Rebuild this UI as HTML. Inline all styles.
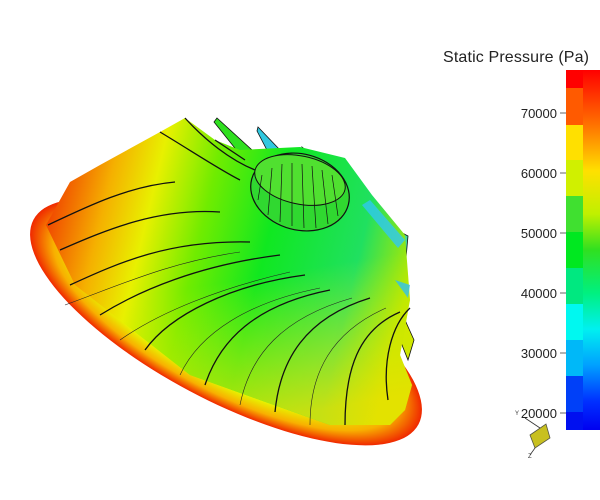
<!DOCTYPE html>
<html><head><style>
html,body{margin:0;padding:0;background:#fff;width:600px;height:500px;overflow:hidden}
text{font-family:"Liberation Sans",sans-serif}
</style></head><body>
<svg width="600" height="500" viewBox="0 0 600 500" xmlns="http://www.w3.org/2000/svg">
<defs>
<radialGradient id="base" cx="0.5" cy="0.5" r="0.5">
<stop offset="0.75" stop-color="#e8f000"/>
<stop offset="0.88" stop-color="#f8b000"/>
<stop offset="1" stop-color="#f02800"/>
</radialGradient>
<linearGradient id="body" x1="0" y1="0.3" x2="1" y2="0.5">
<stop offset="0" stop-color="#f04000"/>
<stop offset="0.15" stop-color="#f5b000"/>
<stop offset="0.27" stop-color="#e8f000"/>
<stop offset="0.42" stop-color="#70ec00"/>
<stop offset="0.6" stop-color="#10e820"/>
<stop offset="0.85" stop-color="#20e060"/>
<stop offset="1" stop-color="#b0e800"/>
</linearGradient>
<linearGradient id="shade" x1="0.3" y1="0" x2="0.5" y2="1">
<stop offset="0.55" stop-color="#f0f000" stop-opacity="0"/>
<stop offset="1" stop-color="#f0e000" stop-opacity="0.8"/>
</linearGradient>
<linearGradient id="cb" x1="0" y1="0" x2="0" y2="1">
<stop offset="0" stop-color="#ff0000"/>
<stop offset="0.15" stop-color="#ff7000"/>
<stop offset="0.28" stop-color="#ffe000"/>
<stop offset="0.4" stop-color="#c0f000"/>
<stop offset="0.5" stop-color="#30e020"/>
<stop offset="0.62" stop-color="#00f080"/>
<stop offset="0.72" stop-color="#00f0f0"/>
<stop offset="0.82" stop-color="#00a0ff"/>
<stop offset="0.92" stop-color="#0030ff"/>
<stop offset="1" stop-color="#0000f0"/>
</linearGradient>
</defs>
<!-- base disk -->
<ellipse cx="226" cy="322" rx="218" ry="78" transform="rotate(28 226 322)" fill="url(#base)"/>
<!-- extra blade tips -->
<g fill="#30e020" stroke="#111" stroke-width="0.8">
<path d="M217,118 L252,150 L238,152 L214,122 Z"/>
<path d="M258,127 L280,150 L268,152 L257,131 Z" fill="#30c8e0"/>
<path d="M302,147 L318,160 L305,160 Z" fill="#30c8e0"/>
<path d="M387,225 L408,236 L406,258 L395,250 Z" fill="#40d8a0"/>
<path d="M405,320 L414,340 L408,360 L400,340 Z" fill="#d0e800"/>
</g>
<!-- body -->
<path d="M46,225 L70,182 L100,165 L160,132 L185,118 L215,140 L240,150 L300,147 L345,158 L372,195 L405,235 L410,300 L400,355 L412,385 L405,410 L390,425 L330,425 L190,375 L75,285 Z" fill="url(#body)"/>
<path d="M46,225 L70,182 L100,165 L160,132 L185,118 L215,140 L240,150 L300,147 L345,158 L372,195 L405,235 L410,300 L400,355 L412,385 L405,410 L390,425 L330,425 L190,375 L75,285 Z" fill="url(#shade)"/>
<!-- cyan blade tips right -->
<path d="M370,200 L405,240 L398,248 L362,205 Z" fill="#30c8f0" opacity="0.8"/>
<path d="M395,280 L410,285 L408,298 Z" fill="#30c0f0" opacity="0.8"/>
<!-- blade lines -->
<g fill="none" stroke="#111" stroke-width="1.3">
<path d="M48,225 C90,205 130,186 175,182"/>
<path d="M60,250 C110,228 160,208 220,212"/>
<path d="M70,285 C120,262 170,240 250,242"/>
<path d="M100,315 C140,290 200,265 280,255"/>
<path d="M145,350 C170,315 230,285 305,275"/>
<path d="M205,385 C220,340 255,305 330,290"/>
<path d="M275,412 C280,360 305,318 370,298"/>
<path d="M345,425 C345,370 358,330 400,312"/>
<path d="M388,400 C382,360 392,325 410,308"/>
<path d="M160,132 C190,150 220,170 240,180"/>
<path d="M185,118 C205,140 230,160 255,170"/>
<path d="M215,140 L245,160"/>
</g>
<g fill="none" stroke="#222" stroke-width="0.6">
<path d="M65,305 C120,285 170,262 240,252"/>
<path d="M120,340 C160,312 220,288 290,272"/>
<path d="M180,375 C200,332 250,302 320,288"/>
<path d="M240,405 C250,355 282,318 352,298"/>
<path d="M310,425 C310,372 332,332 386,308"/>
</g>
<!-- hub -->
<ellipse cx="300" cy="192" rx="50" ry="38" transform="rotate(15 300 192)" fill="#30d830" stroke="#111" stroke-width="1.2"/>
<ellipse cx="300" cy="180" rx="46" ry="24" transform="rotate(12 300 180)" fill="#50e030" stroke="#111" stroke-width="1"/>
<g stroke="#111" stroke-width="0.7">
<line x1="262" y1="175" x2="258" y2="200"/><line x1="272" y1="168" x2="268" y2="215"/>
<line x1="282" y1="164" x2="280" y2="222"/><line x1="292" y1="163" x2="292" y2="226"/>
<line x1="302" y1="164" x2="304" y2="228"/><line x1="312" y1="166" x2="316" y2="228"/>
<line x1="322" y1="170" x2="328" y2="224"/><line x1="332" y1="175" x2="338" y2="216"/>
</g>
<!-- colorbar -->
<rect x="583" y="70" width="17" height="360" fill="url(#cb)"/>
<rect x="566" y="70" width="17" height="18" fill="#ff0000"/>
<rect x="566" y="88" width="17" height="37" fill="#ff5a00"/>
<rect x="566" y="125" width="17" height="35" fill="#ffe000"/>
<rect x="566" y="160" width="17" height="36" fill="#d0f000"/>
<rect x="566" y="196" width="17" height="36" fill="#40e030"/>
<rect x="566" y="232" width="17" height="36" fill="#00e820"/>
<rect x="566" y="268" width="17" height="36" fill="#00e880"/>
<rect x="566" y="304" width="17" height="36" fill="#00f8f0"/>
<rect x="566" y="340" width="17" height="36" fill="#00b8f8"/>
<rect x="566" y="376" width="17" height="36" fill="#0040f8"/>
<rect x="566" y="412" width="17" height="18" fill="#0010f0"/>
<text x="443" y="62" font-size="16" fill="#222" textLength="146">Static Pressure (Pa)</text>
<g font-size="13" fill="#222" text-anchor="end">
<text x="557" y="118">70000</text><text x="557" y="178">60000</text>
<text x="557" y="238">50000</text><text x="557" y="298">40000</text>
<text x="557" y="358">30000</text><text x="557" y="418">20000</text>
</g>
<g stroke="#666" stroke-width="1">
<line x1="560" y1="113" x2="566" y2="113"/><line x1="560" y1="173" x2="566" y2="173"/>
<line x1="560" y1="233" x2="566" y2="233"/><line x1="560" y1="293" x2="566" y2="293"/>
<line x1="560" y1="353" x2="566" y2="353"/><line x1="560" y1="413" x2="566" y2="413"/>
</g>
<!-- axis triad -->
<polygon points="530,435 546,424 550,438 535,448" fill="#c8c020" stroke="#554" stroke-width="0.8"/>
<line x1="525" y1="418" x2="540" y2="428" stroke="#333" stroke-width="0.8"/>
<line x1="535" y1="448" x2="530" y2="455" stroke="#333" stroke-width="0.8"/>
<text x="515" y="415" font-size="6" fill="#333">Y</text>
<text x="528" y="458" font-size="6" fill="#333">Z</text>
</svg>
</body></html>
